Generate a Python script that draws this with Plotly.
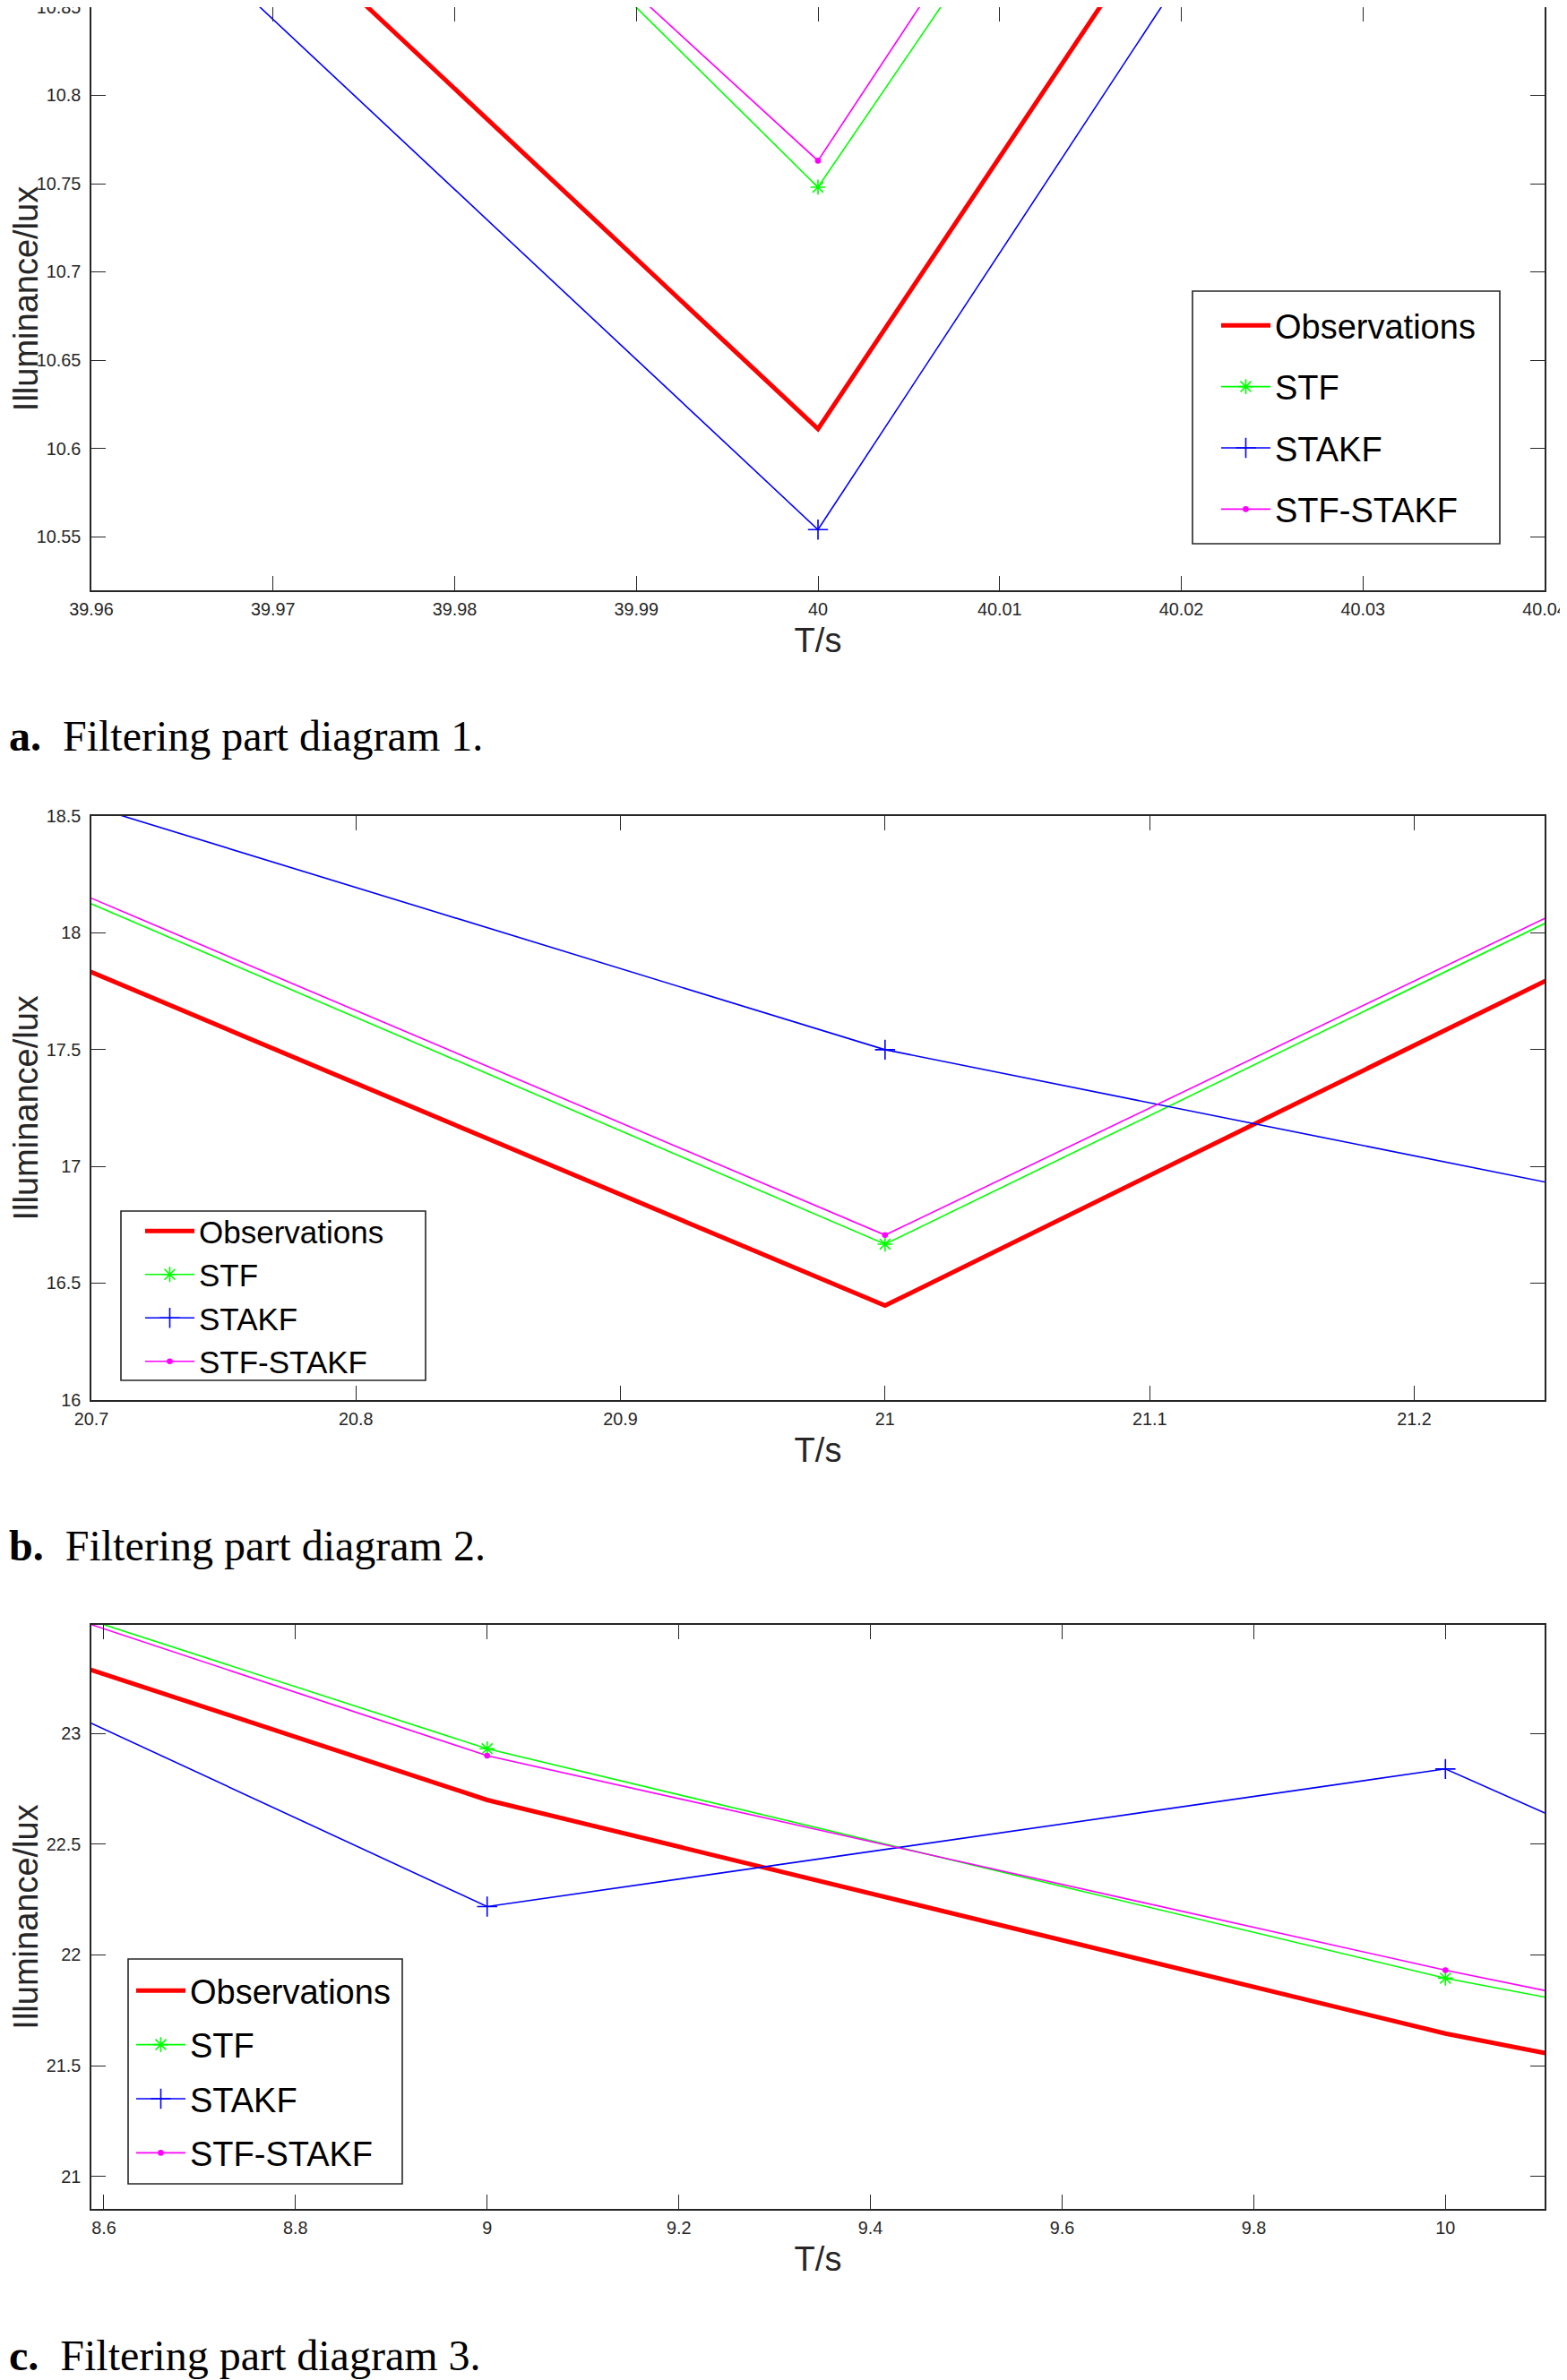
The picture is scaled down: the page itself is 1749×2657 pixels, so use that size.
import plotly.graph_objects as go

W, H = 1749, 2657
PAGE_OFFSET = 8  # default body margin of the html page

series_names = ["Observations", "STF", "STAKF", "STF-STAKF"]

# ---- panel a data (time in s, illuminance in lux) ----
a_t = [39, 40, 41]
a_obs = [20.25, 10.611, 26.01]
a_stf = [20.93, 10.748, 25.85]
a_stakf = [20.19, 10.554, 26.22]
a_hyb = [20.19, 10.763, 26.36]

# ---- panel b data ----
b_t = [20, 21, 22]
b_obs = [21.16, 16.404, 21.97]
b_stf = [21.52, 16.667, 22.17]
b_stakf = [20.97, 17.499, 15.23]
b_hyb = [21.51, 16.706, 22.14]

# ---- panel c data ----
c_t = [8, 9, 10, 11]
c_obs = [24.12, 22.699, 21.645, 20.80]
c_stf = [24.33, 22.930, 21.895, 21.07]
c_stakf = [24.22, 22.218, 22.839, 20.92]
c_hyb = [24.33, 22.899, 21.931, 21.05]

# ---- ticks ----
a_xticks = [39.96, 39.97, 39.98, 39.99, 40.0, 40.01, 40.02, 40.03, 40.04]
a_xlabels = ["39.96", "39.97", "39.98", "39.99", "40", "40.01", "40.02", "40.03", "40.04"]
a_yticks = [10.55, 10.6, 10.65, 10.7, 10.75, 10.8, 10.85]
a_ylabels = ["10.55", "10.6", "10.65", "10.7", "10.75", "10.8", "10.85"]
b_xticks = [20.7, 20.8, 20.9, 21.0, 21.1, 21.2]
b_xlabels = ["20.7", "20.8", "20.9", "21", "21.1", "21.2"]
b_yticks = [16, 16.5, 17, 17.5, 18, 18.5]
b_ylabels = ["16", "16.5", "17", "17.5", "18", "18.5"]
c_xticks = [8.6, 8.8, 9.0, 9.2, 9.4, 9.6, 9.8, 10.0]
c_xlabels = ["8.6", "8.8", "9", "9.2", "9.4", "9.6", "9.8", "10"]
c_yticks = [21, 21.5, 22, 22.5, 23]
c_ylabels = ["21", "21.5", "22", "22.5", "23"]

caption_letters = ["a.", "b.", "c."]
captions = ["Filtering part diagram 1.", "Filtering part diagram 2.", "Filtering part diagram 3."]
x_title = "T/s"
y_title = "Illuminance/lux"

# ---- layout geometry (screen pixels from top-left) ----
PX_L, PX_R = 102, 1724
panel_px = [(8, 659), (910.7, 1563), (1814, 2466)]
ytitle_standoff = [22, 12, 12]
EPS = 1e-7
ranges = [
    ([39.96 - EPS, 40.04 + EPS], [10.5196, 10.85 + EPS]),
    ([20.7 - EPS, 21.2493], [16.0 - EPS, 18.5 + EPS]),
    ([8.587, 10.1035], [20.854, 23.489]),
]
legend_boxes = [(1331, 1674, 325, 607), (135, 475, 1352, 1541), (143, 449, 2187, 2438)]
# (left px, top px, font size, gap between entries)
legend_pos = [(1358, 332, 38, 16), (157, 1345, 35, 0), (147, 2191, 38, 8)]
caption_base = [837, 1742, 2645]

styles = [
    dict(color="#FF0000", width=5, symbol=None, size=0),
    dict(color="#00FF00", width=1.6, symbol="asterisk-open", size=14),
    dict(color="#0000FF", width=1.6, symbol="cross-thin-open", size=16),
    dict(color="#FF00FF", width=1.6, symbol="circle", size=5),
]

panels = [
    (a_t, [a_obs, a_stf, a_stakf, a_hyb]),
    (b_t, [b_obs, b_stf, b_stakf, b_hyb]),
    (c_t, [c_obs, c_stf, c_stakf, c_hyb]),
]
xt = [(a_xticks, a_xlabels), (b_xticks, b_xlabels), (c_xticks, c_xlabels)]
yt = [(a_yticks, a_ylabels), (b_yticks, b_ylabels), (c_yticks, c_ylabels)]


def clamp(v):
    return min(1.0, max(0.0, v))


def px_x(p):
    return clamp((p - PAGE_OFFSET) / W)


def px_y(p):
    return clamp(1 - (p - PAGE_OFFSET) / H)


fig = go.Figure()
layout = dict(
    width=W, height=H,
    margin=dict(l=0, r=0, t=0, b=0),
    paper_bgcolor="white", plot_bgcolor="white",
    font=dict(family="Liberation Sans, Arial, Helvetica, sans-serif", color="#000000"),
    shapes=[], annotations=[],
)

axcolor = "#262626"
for i, (t, ys) in enumerate(panels):
    sfx = "" if i == 0 else str(i + 1)
    lg = "legend" if i == 0 else "legend" + str(i + 1)
    for j, (name, y) in enumerate(zip(series_names, ys)):
        st = styles[j]
        kw = dict(
            x=t, y=y, name=name, xaxis="x" + sfx, yaxis="y" + sfx,
            legend=lg, legendgroup="p%d_%d" % (i, j),
            line=dict(color=st["color"], width=st["width"]),
        )
        if st["symbol"] is None:
            kw["mode"] = "lines"
        else:
            kw["mode"] = "lines+markers"
            kw["marker"] = dict(symbol=st["symbol"], size=st["size"], color=st["color"],
                                line=dict(color=st["color"], width=1.6))
        fig.add_trace(go.Scatter(**kw))

    top, bot = panel_px[i]
    xr, yr = ranges[i]
    common = dict(
        showgrid=False, zeroline=False, showline=True, linecolor=axcolor, linewidth=1.6,
        mirror="ticks", ticks="inside", ticklen=16, tickwidth=1.3, tickcolor=axcolor,
        tickfont=dict(size=19.8, color=axcolor, family="Liberation Sans, Arial, sans-serif"),
        automargin=False, ticklabeloverflow="allow",
    )
    layout["xaxis" + sfx] = dict(
        common, domain=[px_x(PX_L), px_x(PX_R)], range=xr, anchor="y" + sfx,
        tickmode="array", tickvals=xt[i][0], ticktext=xt[i][1], ticklabelstandoff=2,
        title=dict(text=x_title, font=dict(size=38, color=axcolor), standoff=12),
    )
    layout["yaxis" + sfx] = dict(
        common, domain=[px_y(bot), px_y(top)], range=yr, anchor="x" + sfx,
        tickmode="array", tickvals=yt[i][0], ticktext=yt[i][1], ticklabelstandoff=6,
        title=dict(text=y_title, font=dict(size=38, color=axcolor), standoff=ytitle_standoff[i]),
    )

    # legend frame
    bx0, bx1, by0, by1 = legend_boxes[i]
    layout["shapes"].append(dict(
        type="rect", xref="paper", yref="paper", layer="above",
        x0=px_x(bx0), x1=px_x(bx1), y0=px_y(by1), y1=px_y(by0),
        line=dict(color=axcolor, width=1.6), fillcolor="white",
    ))
    lx, ly, fs, gap = legend_pos[i]
    layout[lg] = dict(
        x=px_x(lx), y=px_y(ly), xanchor="left", yanchor="top",
        bgcolor="rgba(0,0,0,0)", borderwidth=0, itemwidth=55,
        font=dict(size=fs, color="#000000", family="Liberation Sans, Arial, sans-serif"),
        tracegroupgap=gap, traceorder="grouped",
    )

    # caption
    layout["annotations"].append(dict(
        xref="paper", yref="paper", x=px_x(8), y=px_y(caption_base[i] - 16),
        xanchor="left", yanchor="middle", showarrow=False,
        text="<b>" + caption_letters[i] + "</b>\u00a0\u00a0" + captions[i],
        font=dict(family="Liberation Serif, Times New Roman, serif", size=48, color="#000000"),
    ))

fig.update_layout(**layout)
fig.write_html("out.html")
